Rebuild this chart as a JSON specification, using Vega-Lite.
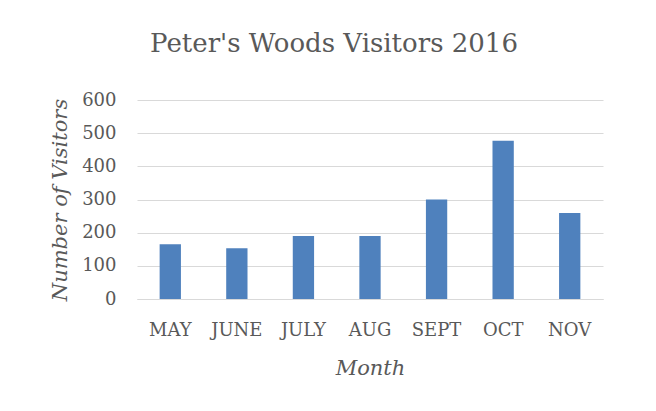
{
  "$schema": "https://vega.github.io/schema/vega-lite/v6.json",
  "width": 466,
  "height": 199,
  "padding": {"left": 49, "top": 31, "right": 52, "bottom": 30},
  "background": "white",
  "title": {
    "text": "Peter's Woods Visitors 2016",
    "font": "DejaVu Serif",
    "fontSize": 26,
    "fontWeight": "normal",
    "color": "#595959",
    "anchor": "middle",
    "dx": -36,
    "offset": 34
  },
  "data": {
    "values": [
      {"month": "MAY", "visitors": 165},
      {"month": "JUNE", "visitors": 153},
      {"month": "JULY", "visitors": 190},
      {"month": "AUG", "visitors": 190},
      {"month": "SEPT", "visitors": 300},
      {"month": "OCT", "visitors": 477},
      {"month": "NOV", "visitors": 259}
    ]
  },
  "mark": {"type": "bar", "color": "#4f81bd", "width": {"band": 0.32}},
  "encoding": {
    "x": {
      "field": "month",
      "type": "nominal",
      "sort": null,
      "title": "Month",
      "scale": {"paddingInner": 0, "paddingOuter": 0},
      "axis": {
        "labelAngle": 0,
        "ticks": false,
        "domainColor": "#d9d9d9",
        "domainWidth": 1,
        "labelPadding": 22,
        "titlePadding": 18
      }
    },
    "y": {
      "field": "visitors",
      "type": "quantitative",
      "title": "Number of Visitors",
      "scale": {"domain": [0, 600]},
      "axis": {
        "values": [0, 100, 200, 300, 400, 500, 600],
        "ticks": false,
        "domain": false,
        "labelPadding": 21,
        "titlePadding": 11,
        "gridColor": "#d9d9d9"
      }
    }
  },
  "config": {
    "view": {"stroke": null},
    "axis": {
      "labelFont": "DejaVu Serif",
      "labelFontSize": 18,
      "labelColor": "#595959",
      "titleFont": "DejaVu Serif",
      "titleFontSize": 21,
      "titleFontStyle": "italic",
      "titleFontWeight": "normal",
      "titleColor": "#595959"
    }
  }
}
